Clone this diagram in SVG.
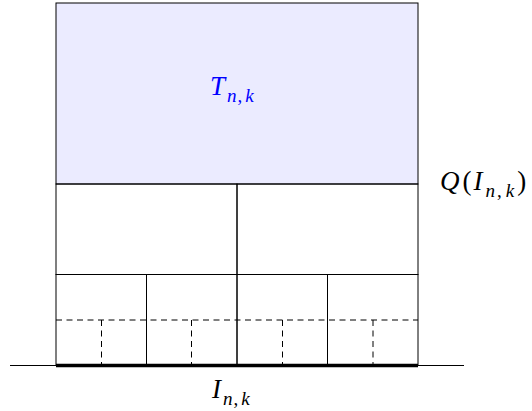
<svg xmlns="http://www.w3.org/2000/svg" width="532" height="411" viewBox="0 0 532 411">
<style>
.ln{stroke:#000;stroke-width:1;fill:none}
.ds{stroke:#000;stroke-width:1;fill:none;stroke-dasharray:6 4.5}
.lbl{font-family:"Liberation Serif","DejaVu Serif",serif;font-size:27px}
.it{font-style:italic}
.sub{font-size:19px}
</style>
<g id="top">
<rect x="56" y="3" width="362" height="181" class="ln" style="fill:#ebebff"/>
<text class="lbl" x="210" y="95" fill="#0000ff"><tspan class="it">T</tspan><tspan class="sub it" dx="2" dy="6.5">n</tspan><tspan class="sub" dx="1">,</tspan><tspan class="sub it" dx="3">k</tspan></text>
</g>
<g id="middle">
<rect x="56" y="184" width="181" height="90.5" class="ln"/>
<rect x="237" y="184" width="181" height="90.5" class="ln"/>
</g>
<g id="bottom">
<rect x="56" y="274.5" width="90.5" height="90.5" class="ln"/>
<rect x="146.5" y="274.5" width="90.5" height="90.5" class="ln"/>
<rect x="237" y="274.5" width="90.5" height="90.5" class="ln"/>
<rect x="327.5" y="274.5" width="90.5" height="90.5" class="ln"/>
</g>
<g id="dashed">
<line x1="56" y1="320" x2="418" y2="320" class="ds"/>
<line x1="101.5" y1="320" x2="101.5" y2="365" class="ds"/>
<line x1="191.5" y1="320" x2="191.5" y2="365" class="ds"/>
<line x1="282.5" y1="320" x2="282.5" y2="365" class="ds"/>
<line x1="373" y1="320" x2="373" y2="365" class="ds"/>
</g>
<g id="baseline">
<line x1="10" y1="365.5" x2="464" y2="365.5" class="ln"/>
<line x1="56" y1="365.5" x2="418" y2="365.5" stroke="#000" stroke-width="3.5"/>
</g>
<g id="labels">
<text class="lbl" x="440" y="190"><tspan class="it">Q</tspan><tspan dx="3">(</tspan><tspan class="it" dx="2">I</tspan><tspan class="sub it" dx="3" dy="6.5">n</tspan><tspan class="sub" dx="2">,</tspan><tspan class="sub it" dx="4">k</tspan><tspan dx="3" dy="-6.5">)</tspan></text>
<text class="lbl" x="212" y="398"><tspan class="it">I</tspan><tspan class="sub it" dx="2" dy="6.5">n</tspan><tspan class="sub" dx="1">,</tspan><tspan class="sub it" dx="3">k</tspan></text>
</g>
</svg>
